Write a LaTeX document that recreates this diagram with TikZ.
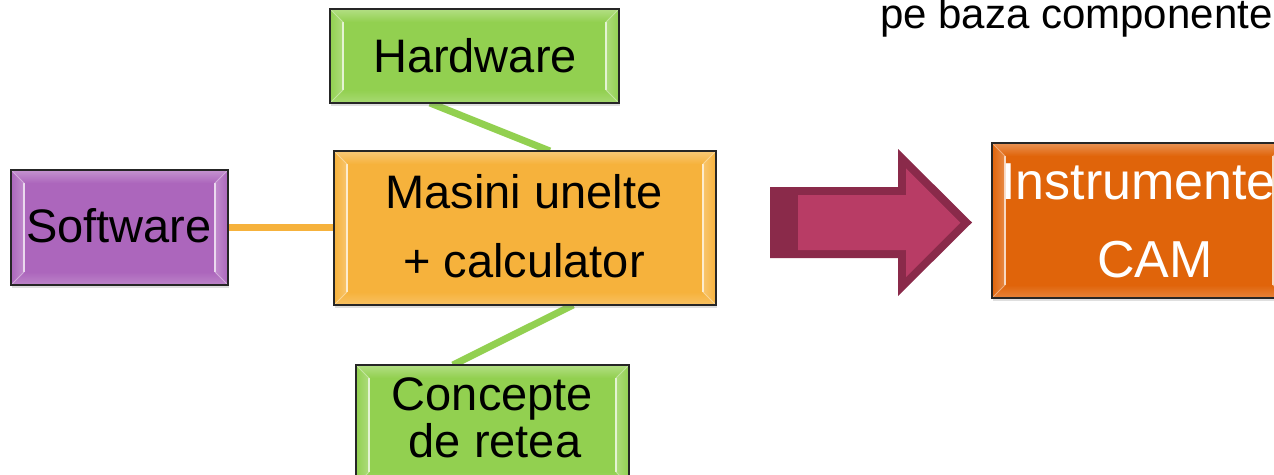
\documentclass[tikz,border=0pt]{standalone}
\usepackage{fontspec}
\setmainfont{Liberation Sans}
\usetikzlibrary{calc,backgrounds,shadows}

\definecolor{leafgreen}{RGB}{146,208,80}
\definecolor{amber}{RGB}{246,178,60}
\definecolor{orchid}{RGB}{172,102,188}
\definecolor{pumpkin}{RGB}{224,100,10}
\definecolor{berry}{RGB}{184,60,101}
\definecolor{berrydark}{RGB}{138,42,74}

\tikzset{
  panel/.style={rectangle, draw=black!85, line width=1.3pt, fill=#1,
    inner sep=0pt, outer sep=0pt,
    drop shadow={shadow xshift=1pt, shadow yshift=-3pt, opacity=0.25}},
  caption/.style={font=\fontsize{47}{48}\selectfont, anchor=base, inner sep=0pt},
  link/.style={line width=7pt, draw=#1},
}

% bevelled rim of a panel: shaded side strips with a bright inner edge
\newcommand\bevelrim[2]{%
  \shade[top color=#2!70!white, bottom color=#2] (#1.north west) -- ($(#1.north west)+(13,13)$)
    -- ($(#1.north east)+(-13,13)$) -- (#1.north east) -- cycle;
  \shade[top color=#2, bottom color=#2!80!white] (#1.south west) -- ($(#1.south west)+(13,-13)$)
    -- ($(#1.south east)+(-13,-13)$) -- (#1.south east) -- cycle;
  \shade[left color=#2, right color=#2!75!white] (#1.north west) -- ($(#1.north west)+(13,13)$)
    -- ($(#1.south west)+(13,-13)$) -- (#1.south west) -- cycle;
  \shade[right color=#2, left color=#2!75!white] (#1.north east) -- ($(#1.north east)+(-13,13)$)
    -- ($(#1.south east)+(-13,-13)$) -- (#1.south east) -- cycle;
  \draw[#2!25!white, line width=2.2pt]
    ($(#1.north west)+(13,13)$) -- ($(#1.south west)+(13,-13)$)
    ($(#1.north east)+(-13,13)$) -- ($(#1.south east)+(-13,-13)$);
  \draw[#2!55!white, line width=0.8pt]
    (#1.north west) -- ($(#1.north west)+(13,13)$)
    (#1.south west) -- ($(#1.south west)+(13,-13)$)
    (#1.north east) -- ($(#1.north east)+(-13,13)$)
    (#1.south east) -- ($(#1.south east)+(-13,-13)$);
  \draw[black!85, line width=1.3pt] (#1.north west) rectangle (#1.south east);
}

\begin{document}
\begin{tikzpicture}[x=1pt, y=-1pt]
\useasboundingbox (0,0) rectangle (1274,474);
\clip (0,0) rectangle (1274,474);

% panels
\node[panel=leafgreen, minimum width=289pt, minimum height=94pt]  (hw) at (474.5,56) {};
\node[panel=amber,     minimum width=382pt, minimum height=154pt] (mu) at (525,228) {};
\node[panel=orchid,    minimum width=217pt, minimum height=115pt] (sw) at (119.5,227.5) {};
\node[panel=leafgreen, minimum width=273pt, minimum height=120pt] (cn) at (492.5,425) {};
\node[panel=pumpkin,   minimum width=294pt, minimum height=155pt] (cam) at (1139,220.5) {};

\bevelrim{hw}{leafgreen}
\bevelrim{mu}{amber}
\bevelrim{sw}{orchid}
\bevelrim{cn}{leafgreen}
\bevelrim{cam}{pumpkin}

% connectors behind the panels
\begin{scope}[on background layer]
  \draw[link=leafgreen] ($(hw.south west)!0.346!(hw.south east)$) -- ($(mu.north west)!0.565!(mu.north east)$);
  \draw[link=leafgreen] ($(mu.south west)!0.626!(mu.south east)$) -- ($(cn.north west)!0.355!(cn.north east)$);
  \draw[link=amber, line width=7.5pt] (sw.east) -- (mu.west |- sw.east);
\end{scope}

% labels
\node[caption] (hwlabel) at (475,72) {Hardware};
\node[caption] (mulabel1) at (524,208) {Masini unelte};
\node[caption] (mulabel2) at (524,277) {+ calculator};
\node[caption] (swlabel) at (119,242) {Software};
\node[caption] (cnlabel1) at (492.5,410) {Concepte};
\node[caption] (cnlabel2) at (495,457) {de retea};
\node[caption, anchor=base west, font=\fontsize{52}{52}\selectfont, text=white] (camlabel1) at (1001,199) {Instrumente};
\node[caption, font=\fontsize{52}{52}\selectfont, text=white] (camlabel2) at (1155,277) {CAM};
\node[caption, anchor=base west, font=\fontsize{42}{42}\selectfont] (heading) at (880,28) {pe baza componente};

% block arrow with dark rim
\fill[berrydark] (770,187) -- (898,187) -- (898,149) -- (972,222.5) -- (898,296) -- (898,258) -- (770,258) -- cycle;
\fill[berry] (798,195) -- (906,195) -- (906,168.3) -- (960.4,222.7) -- (906,277.2) -- (906,250) -- (798,250) -- cycle;
\end{tikzpicture}
\end{document}
